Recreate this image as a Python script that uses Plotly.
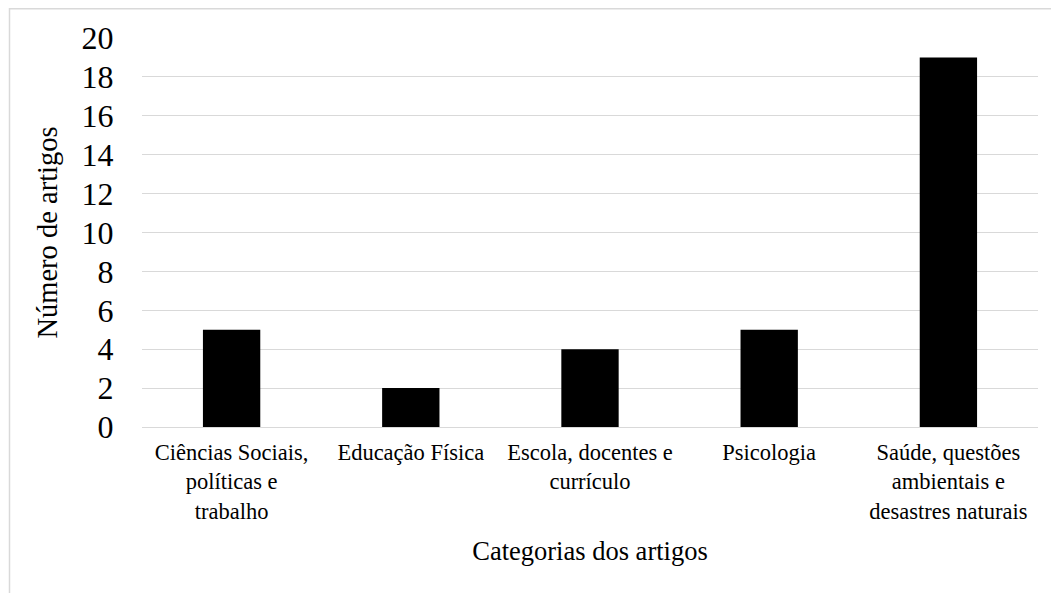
import plotly.graph_objects as go

categories = ["Ciências Sociais,<br>políticas e<br>trabalho",
              "Educação Física",
              "Escola, docentes e<br>currículo",
              "Psicologia",
              "Saúde, questões<br>ambientais e<br>desastres naturais"]
values = [5, 2, 4, 5, 19]
y_ticks = list(range(0, 21, 2))

# page has an 8px body margin, so the figure is drawn 8px smaller/offset
OFF = 8
W, H = 1059 - OFF, 593 - OFF
L, T = 142 - OFF, 38 - OFF
R = W - (1038 - OFF)
B = H - (427 - OFF)
pw, ph = W - L - R, H - T - B

def px_x(x):
    return (x - OFF - L) / pw

def px_y(y):
    return (H - B - (y - OFF)) / ph

FONT = "Liberation Serif"
GRID = "#d9d9d9"

fig = go.Figure(go.Bar(x=categories, y=values, marker=dict(color="black", line=dict(width=0)),
                       width=0.32))

fig.update_layout(
    width=W, height=H,
    margin=dict(l=L, r=R, t=T, b=B),
    paper_bgcolor="white", plot_bgcolor="white",
    font=dict(family=FONT, color="black", size=22),
    showlegend=False,
    xaxis=dict(
        type="category",
        tickfont=dict(size=22.5, family=FONT, color="black"),
        showgrid=False,
        showline=True, linecolor=GRID, linewidth=1,
        ticks="outside", ticklen=5, tickcolor="rgba(0,0,0,0)",
        title=dict(text="Categorias dos artigos", font=dict(size=26.5, family=FONT, color="black"), standoff=18),
    ),
    yaxis=dict(
        range=[0, 20],
        tickvals=y_ticks,
        tickfont=dict(size=32, family=FONT, color="black"),
        showgrid=True, gridcolor=GRID, gridwidth=1,
        zeroline=True, zerolinecolor=GRID, zerolinewidth=1,
        ticks="outside", ticklen=21, tickcolor="rgba(0,0,0,0)",
        title=dict(text="Número de artigos", font=dict(size=28.5, family=FONT, color="black"), standoff=15),
    ),
    shapes=[dict(type="rect", xref="paper", yref="paper",
                 x0=px_x(9.5), x1=px_x(1080), y0=px_y(620), y1=px_y(8.8),
                 line=dict(color=GRID, width=1.5), fillcolor="rgba(0,0,0,0)", layer="below")],
)

fig.write_html("out.html")
